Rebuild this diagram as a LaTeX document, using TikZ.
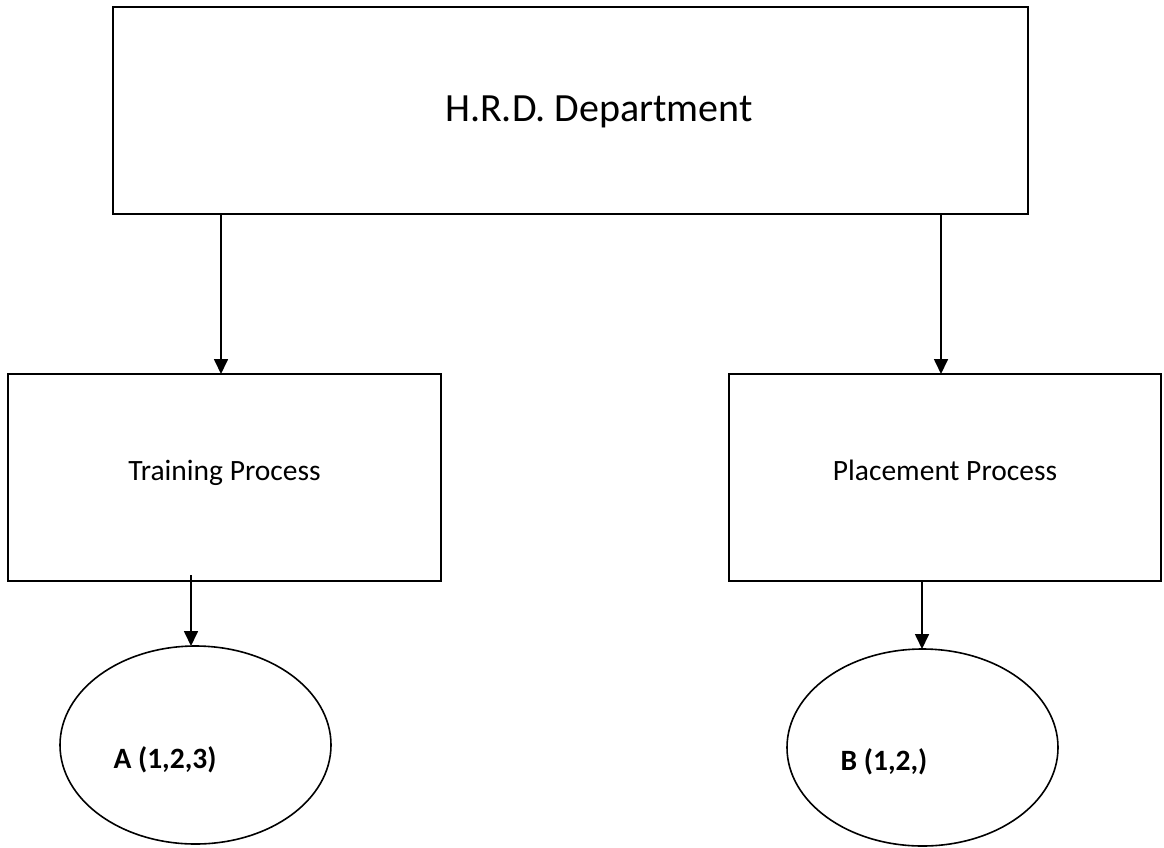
\documentclass[tikz,border=0pt]{standalone}
\usepackage{fontspec}
\setmainfont{Carlito}
\usetikzlibrary{shapes.geometric,arrows.meta}
\begin{document}
\begin{tikzpicture}[x=1pt,y=-1pt,
  frame/.style={draw=black,line width=2pt,rectangle,inner sep=0pt,outer sep=0pt},
  oval/.style={draw=black,line width=1.6pt,ellipse,inner sep=0pt,outer sep=0pt},
  arr/.style={line width=1.7pt,-{Triangle[length=15pt,width=14pt]}},
  label/.style={anchor=base,inner sep=0pt},
  big/.style={font=\fontsize{40}{48}\selectfont},
  mid/.style={font=\fontsize{29.5}{35}\selectfont},
  bold/.style={font=\fontsize{29.5}{35}\selectfont\bfseries}]
\useasboundingbox (0,0) rectangle (1164,847);

% boxes
\node[frame,minimum width=915pt,minimum height=207pt] (hrd) at (570.5,110.5) {};
\node[frame,minimum width=433pt,minimum height=207pt] (train) at (224.5,477.5) {};
\node[frame,minimum width=432pt,minimum height=207pt] (place) at (945,477.5) {};

% ovals
\node[oval,minimum width=271pt,minimum height=198pt] (ovA) at (195.5,745) {};
\node[oval,minimum width=271pt,minimum height=197pt] (ovB) at (922.5,747.5) {};

% texts
\node[label,big] (thrd) at (599,121) {H.R.D. Department};
\node[label,mid] (ttrain) at (224.5,480) {Training Process};
\node[label,mid] (tplace) at (945,480) {Placement Process};
\node[label,bold] (tA) at (165,768) {A (1,2,3)};
\node[label,bold] (tB) at (884,770) {B (1,2,)};

% arrow columns
\coordinate (c1) at (221,0);
\coordinate (c2) at (941,0);
\coordinate (c3) at (191,0);
\coordinate (c4) at (922,0);
\coordinate (s3) at (191,575);

% connectors
\draw[arr] (hrd.south -| c1) -- (train.north -| c1);
\draw[arr] (hrd.south -| c2) -- (place.north -| c2);
\draw[arr] (s3) -- (ovA.north -| c3);
\draw[arr] (place.south -| c4) -- (ovB.north -| c4);
\end{tikzpicture}
\end{document}
